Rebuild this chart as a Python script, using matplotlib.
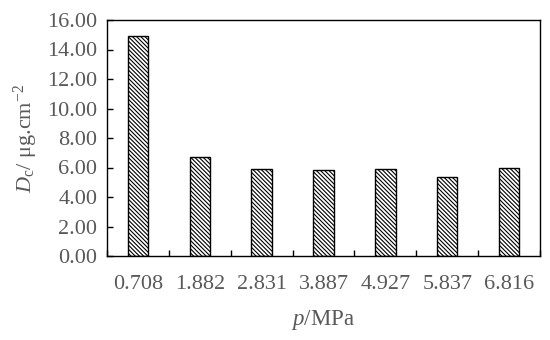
import matplotlib
matplotlib.use("Agg")
import matplotlib.pyplot as plt
import numpy as np

pressures = ["0.708", "1.882", "2.831", "3.887", "4.927", "5.837", "6.816"]
dc_values = [14.9, 6.68, 5.9, 5.82, 5.9, 5.36, 5.95]
y_ticks = [0, 2, 4, 6, 8, 10, 12, 14, 16]

plt.rcParams['font.family'] = ['Liberation Serif', 'DejaVu Serif']
plt.rcParams['mathtext.fontset'] = 'custom'
plt.rcParams['mathtext.rm'] = 'Liberation Serif'
plt.rcParams['mathtext.it'] = 'Liberation Serif:italic'
plt.rcParams['hatch.linewidth'] = 0.8

text_col = '#595959'

fig = plt.figure(figsize=(5.5, 3.4), dpi=100)
ax = fig.add_axes([107/550, 1 - 256/340, (540-107)/550, (256-20)/340])

x = np.arange(len(pressures))
ax.bar(x, dc_values, width=0.33, color='white', edgecolor='black',
       linewidth=1.0, hatch='\\' * 8)

ax.set_xlim(-0.5, len(pressures) - 0.5)
ax.set_ylim(0, 16)
ax.set_yticks(y_ticks)
ax.set_yticklabels([f"{v:.2f}" for v in y_ticks])
ax.set_xticks(x)
ax.set_xticklabels(pressures)
ax.set_xticks(np.arange(len(pressures) + 1) - 0.5, minor=True)

ax.tick_params(axis='x', which='major', length=0, pad=14, labelsize=16, labelcolor=text_col)
ax.tick_params(axis='x', which='minor', direction='in', length=4, width=1)
ax.tick_params(axis='y', direction='in', length=4, width=1, pad=7, labelsize=16, labelcolor=text_col)

for s in ax.spines.values():
    s.set_linewidth(1.0)

ax.set_xlabel(r'$p$/MPa', fontsize=16.5, color=text_col, labelpad=10)
ax.set_ylabel(r'$D_\mathrm{c}$/ μg.cm$^{-2}$', fontsize=16, color=text_col, labelpad=5)

fig.savefig('out.png', dpi=100)
